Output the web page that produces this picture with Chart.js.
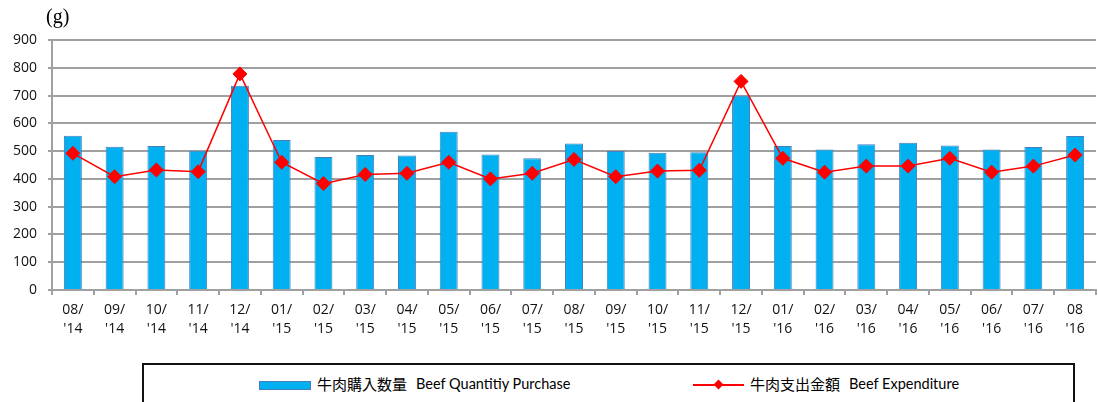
<!DOCTYPE html>
<html lang="ja">
<head>
<meta charset="utf-8">
<title>Beef Quantity Purchase / Beef Expenditure</title>
<script src="https://cdn.jsdelivr.net/npm/chart.js@4/dist/chart.umd.min.js"></script>
<style>
    html, body {
        margin: 0;
        padding: 0;
        background: #fff;
        width: 1098px;
        height: 402px;
        overflow: hidden;
    }
    .wrap {
        position: relative;
        width: 1098px;
        height: 402px;
    }
    #beefChart {
        position: absolute;
        left: 0;
        top: 0;
    }
    .unit {
        position: absolute;
        left: 46px;
        top: 5px;
        font: 20px "Liberation Serif", serif;
        line-height: 23px;
        color: #000;
    }
    .legend-box {
        position: absolute;
        left: 142px;
        top: 363px;
        width: 929px;
        height: 60px;
        border: 2px solid #111;
    }
    .legend-item {
        position: absolute;
        top: 10px;
        height: 20px;
        display: flex;
        align-items: center;
        white-space: nowrap;
    }
    .legend-item .jp {
        font: 15px "Noto Sans CJK JP", sans-serif;
        color: #000;
        position: relative;
        top: -2px;
    }
    .legend-item .en {
        font: 14.5px Lato, "Open Sans", sans-serif;
        color: #000;
        margin-left: 9px;
        position: relative;
        top: -2px;
    }
    .swatch-bar {
        width: 50px;
        height: 7px;
        background: #00B0F0;
        border: 1px solid #4A7EBB;
        margin-right: 6px;
    }
    .swatch-line {
        position: relative;
        width: 51px;
        height: 2px;
        background: #FF0000;
        margin-right: 6px;
    }
    .swatch-line::after {
        content: "";
        position: absolute;
        left: 22px;
        top: -3px;
        width: 7px;
        height: 7px;
        background: #FF0000;
        transform: rotate(45deg);
    }
</style>
</head>
<body>
<div class="wrap">
    <canvas id="beefChart" width="1104" height="340"></canvas>
    <div class="unit">(g)</div>
    <div class="legend-box">
        <div class="legend-item" style="left:115px">
            <div class="swatch-bar"></div>
            <span class="jp">牛肉購入数量</span><span class="en">Beef Quantitiy Purchase</span>
        </div>
        <div class="legend-item" style="left:549px">
            <div class="swatch-line"></div>
            <span class="jp">牛肉支出金額</span><span class="en">Beef Expenditure</span>
        </div>
    </div>
</div>

<script>
// Monthly beef data, Aug 2014 - Aug 2016
const monthLabels = [
    ['08/', "'14"], ['09/', "'14"], ['10/', "'14"], ['11/', "'14"], ['12/', "'14"],
    ['01/', "'15"], ['02/', "'15"], ['03/', "'15"], ['04/', "'15"], ['05/', "'15"],
    ['06/', "'15"], ['07/', "'15"], ['08/', "'15"], ['09/', "'15"], ['10/', "'15"],
    ['11/', "'15"], ['12/', "'15"], ['01/', "'16"], ['02/', "'16"], ['03/', "'16"],
    ['04/', "'16"], ['05/', "'16"], ['06/', "'16"], ['07/', "'16"], ['08', "'16"]
];

const quantityPurchase = [
    555, 516, 518, 501, 735, 540, 479, 486, 484, 570, 488, 474, 527,
    500, 494, 496, 700, 518, 506, 525, 530, 520, 506, 515, 554
];

const expenditure = [
    492, 408, 432, 426, 778, 460, 383, 416, 420, 460, 400, 420, 470,
    408, 428, 431, 751, 474, 424, 446, 446, 474, 424, 446, 486
];

const yTicks = [0, 100, 200, 300, 400, 500, 600, 700, 800, 900];

const axisFont = {
    family: '"Open Sans", "Liberation Sans", sans-serif',
    size: 14
};

document.addEventListener('DOMContentLoaded', function() {
    const ctx = document.getElementById('beefChart');

    new Chart(ctx, {
        type: 'bar',
        data: {
            labels: monthLabels,
            datasets: [
                {
                    type: 'line',
                    label: '牛肉支出金額 Beef Expenditure',
                    data: expenditure,
                    borderColor: '#FF0000',
                    backgroundColor: '#FF0000',
                    borderWidth: 1.5,
                    pointStyle: 'rectRot',
                    pointRadius: 7,
                    pointBackgroundColor: '#FF0000',
                    pointBorderColor: '#FF0000',
                    pointBorderWidth: 1,
                    tension: 0,
                    order: 0
                },
                {
                    label: '牛肉購入数量 Beef Quantitiy Purchase',
                    data: quantityPurchase,
                    backgroundColor: '#00B0F0',
                    borderColor: '#4A7EBB',
                    borderWidth: 1,
                    categoryPercentage: 1,
                    barPercentage: 0.43,
                    order: 1
                }
            ]
        },
        options: {
            responsive: false,
            animation: false,
            devicePixelRatio: 1,
            layout: {
                padding: { top: 40, left: 0, right: 0, bottom: 0 }
            },
            plugins: {
                legend: { display: false },
                tooltip: { enabled: false }
            },
            scales: {
                x: {
                    grid: {
                        offset: true,
                        drawOnChartArea: false,
                        drawTicks: true,
                        tickLength: 5,
                        color: '#A0A0A0',
                        lineWidth: 2
                    },
                    border: { color: '#A0A0A0', width: 2 },
                    ticks: {
                        color: '#111',
                        font: { ...axisFont, lineHeight: 1.4 },
                        padding: 5,
                        maxRotation: 0,
                        autoSkip: false
                    },
                    afterFit: function(scale) {
                        scale.height = 50;
                    }
                },
                y: {
                    min: 0,
                    max: 900,
                    afterBuildTicks: function(scale) {
                        scale.ticks = yTicks.map(v => ({ value: v }));
                    },
                    grid: {
                        color: '#A0A0A0',
                        lineWidth: 2,
                        drawTicks: true,
                        tickLength: 4
                    },
                    border: { color: '#A0A0A0', width: 2 },
                    ticks: {
                        color: '#111',
                        font: axisFont,
                        padding: 11
                    },
                    afterFit: function(scale) {
                        scale.width = 52;
                    }
                }
            }
        }
    });
});
</script>
</body>
</html>
